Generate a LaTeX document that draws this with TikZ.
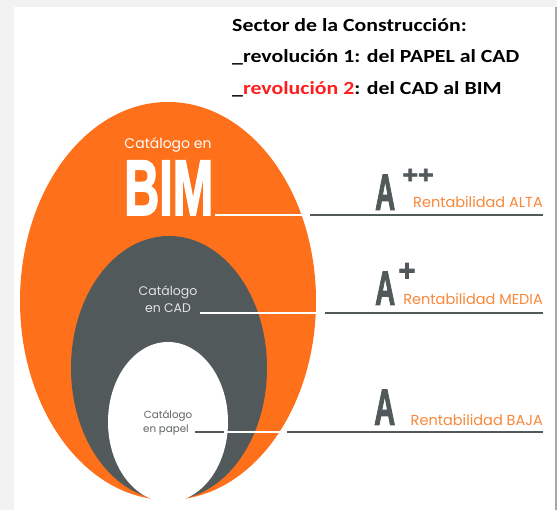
\documentclass[tikz,border=0pt]{standalone}
\usepackage{fontspec}
\setmainfont{Carlito}
\newfontfamily\roundfont{Poppins}
\newfontfamily\condfont[FakeBold=2.5]{Liberation Sans}
\usetikzlibrary{shapes.geometric}
\definecolor{bimorange}{RGB}{255,112,26}
\definecolor{darkgrey}{RGB}{81,89,90}
\definecolor{txtorange}{RGB}{248,136,58}
\definecolor{revred}{RGB}{255,30,30}
\definecolor{framegrey}{RGB}{242,242,242}
\definecolor{cadtxt}{RGB}{228,228,228}
\definecolor{papeltxt}{RGB}{95,100,100}
\tikzset{
  oval/.style={ellipse, inner sep=0pt, draw=none},
  header/.style={anchor=base west, inner sep=0pt, font=\bfseries\fontsize{18.5}{18.5}\selectfont},
  rent/.style={anchor=base east, inner sep=0pt, text=txtorange, font=\roundfont\fontsize{14.5}{14.5}\selectfont},
  grade/.style={anchor=south west, inner sep=0pt, text=darkgrey},
  plus/.style={anchor=center, inner sep=0pt, text=darkgrey},
  whiteline/.style={draw=white, line width=1.6pt},
  greyline/.style={draw=darkgrey, line width=1.6pt},
}
\newcommand{\hstretch}[1]{\scalebox{1.18}[1]{#1}}
\begin{document}
\begin{tikzpicture}[x=1pt,y=-1pt]
\useasboundingbox (0,0) rectangle (557,510);
\fill[framegrey] (0,0) rectangle (557,510);
\fill[white] (14,7) rectangle (555,510);
\fill[gray!70] (555,7) rectangle (557,510);

% ovals
\node[oval, fill=bimorange, minimum width=296pt, minimum height=398pt] (bim) at (168,301) {};
\node[oval, fill=darkgrey, minimum width=196pt, minimum height=264pt] (cad) at (169,368) {};
\node[oval, fill=white, minimum width=120pt, minimum height=160pt] (papel) at (168,422) {};

% header
\node[header] (h1) at (232,32) {\hstretch{Sector de la Construcción:}};
\node[header] (h2) at (232,63) {\hstretch{\_revolución 1: del PAPEL al CAD}};
\node[header] (h3) at (232,95) {\hstretch{\_\textcolor{revred}{revolución 2}: del CAD al BIM}};

% BIM label
\node[anchor=base, inner sep=0pt, text=white, font=\roundfont\fontsize{14}{14}\selectfont] (bimcat) at (168,149) {Catálogo en};
\node[anchor=south west, inner sep=0pt, text=white] (bimtxt) at (124,215) {\resizebox{89pt}{54pt}{\condfont\bfseries BIM}};

% CAD label
\node[anchor=base, inner sep=0pt, text=cadtxt, font=\roundfont\fontsize{12.5}{17}\selectfont] (cadtxt) at (168,296) {Catálogo};
\node[anchor=base, inner sep=0pt, text=cadtxt, font=\roundfont\fontsize{12.5}{17}\selectfont] (cadtxt2) at (168,313) {en CAD};

% papel label
\node[anchor=base, inner sep=0pt, text=papeltxt, font=\roundfont\fontsize{10.3}{10.3}\selectfont] (paptxt) at (168,419) {Catálogo};
\node[anchor=base, inner sep=0pt, text=papeltxt, font=\roundfont\fontsize{10.3}{10.3}\selectfont] (paptxt2) at (166,432) {en papel};

% grades
\node[grade] (a1) at (375,210) {\resizebox{20pt}{35pt}{\condfont\bfseries A}};
\node[plus] (p1) at (418,176) {\resizebox{31pt}{14pt}{\condfont\bfseries ++}};
\node[rent] (r1) at (543,208) {Rentabilidad ALTA};

\node[grade] (a2) at (375,305) {\resizebox{20pt}{33pt}{\condfont\bfseries A}};
\node[plus] (p2) at (407,272) {\resizebox{17pt}{18pt}{\condfont\bfseries +}};
\node[rent] (r2) at (543,305) {Rentabilidad MEDIA};

\node[grade] (a3) at (374,425) {\resizebox{21pt}{35pt}{\condfont\bfseries A}};
\node[rent] (r3) at (543,425) {Rentabilidad BAJA};

% connector coordinates
\coordinate (b1) at (302,215);
\coordinate (g1s) at (310,215);
\coordinate (g1e) at (543,215);
\coordinate (c0) at (200,313);
\coordinate (c1) at (316,313);
\coordinate (g2s) at (325,313);
\coordinate (g2e) at (543,313);
\coordinate (p0) at (195,432);
\coordinate (p1a) at (224,432);
\coordinate (p1b) at (284,432);
\coordinate (g3s) at (287,432);
\coordinate (g3e) at (543,432);

\draw[whiteline] (bimtxt.south east) ++(2,0) -- (b1);
\draw[greyline] (g1s) -- (g1e);
\draw[whiteline] (c0) -- (c1);
\draw[greyline] (g2s) -- (g2e);
\draw[greyline] (p0) -- (p1a);
\draw[whiteline] (p1a) -- (p1b);
\draw[greyline] (g3s) -- (g3e);
\end{tikzpicture}
\end{document}
